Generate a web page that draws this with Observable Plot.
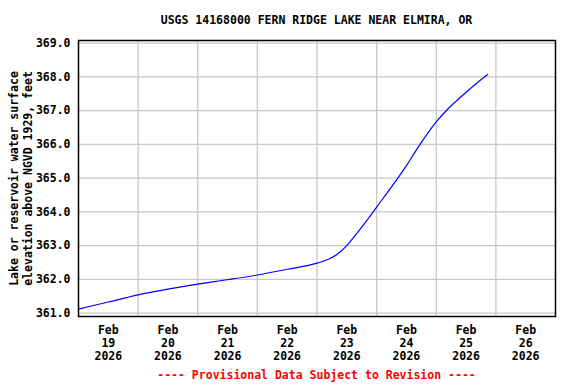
<!DOCTYPE html>
<html>
<head>
<meta charset="utf-8">
<script src="https://cdn.jsdelivr.net/npm/d3@7"></script>
<script src="https://cdn.jsdelivr.net/npm/@observablehq/plot@0.6"></script>
<style>
  html, body { margin: 0; padding: 0; background: #fff; }
  #wrap { position: relative; width: 576px; height: 384px; overflow: hidden; font-family: "DejaVu Sans Mono", monospace; font-weight: bold; font-size: 11.5px; }
  #title { position: absolute; left: 78px; right: 21px; top: 13px; line-height: 14px; text-align: center; color: #000; white-space: pre; z-index: 2; }
  #caption { position: absolute; left: 78px; right: 21px; top: 368px; line-height: 14px; text-align: center; color: #ff0000; white-space: pre; z-index: 2; }
  svg { display: block; }
</style>
</head>
<body>
<div id="wrap">
  <div id="chart"></div>
  <div id="title"></div>
  <div id="caption"></div>
</div>
<script>
const titleText = "USGS 14168000 FERN RIDGE LAKE NEAR ELMIRA, OR";
const captionText = "---- Provisional Data Subject to Revision ----";
const yLabelText = "Lake or reservoir water surface\nelevation above NGVD 1929, feet";

// Observed series (timestamps, elevation in feet)
const times = [
  "2026-02-19T00:00", "2026-02-19T12:00", "2026-02-20T00:00", "2026-02-20T12:00",
  "2026-02-21T00:00", "2026-02-21T12:00", "2026-02-22T00:00", "2026-02-22T12:00",
  "2026-02-23T00:00", "2026-02-23T05:00", "2026-02-23T08:00", "2026-02-23T12:00",
  "2026-02-23T15:00", "2026-02-23T18:00", "2026-02-23T21:00", "2026-02-24T00:00",
  "2026-02-24T06:00", "2026-02-24T12:00", "2026-02-24T17:00", "2026-02-25T00:00",
  "2026-02-25T04:18", "2026-02-25T11:00", "2026-02-25T16:24", "2026-02-25T20:42"
];
const elevations = [
  361.12, 361.33, 361.54, 361.71,
  361.86, 361.99, 362.13, 362.30,
  362.48, 362.61, 362.74, 363.00,
  363.27, 363.55, 363.84, 364.14,
  364.74, 365.37, 365.95, 366.67,
  367.02, 367.48, 367.82, 368.07
];

const xDomain = ["2026-02-19T00:00", "2026-02-27T00:00"];
const xGridDays = ["2026-02-20", "2026-02-21", "2026-02-22", "2026-02-23", "2026-02-24", "2026-02-25", "2026-02-26"];
const xTickTimes = ["2026-02-19T12:00", "2026-02-20T12:00", "2026-02-21T12:00", "2026-02-22T12:00",
                    "2026-02-23T12:00", "2026-02-24T12:00", "2026-02-25T12:00", "2026-02-26T12:00"];
const xTickLabels = ["Feb\n19\n2026", "Feb\n20\n2026", "Feb\n21\n2026", "Feb\n22\n2026",
                     "Feb\n23\n2026", "Feb\n24\n2026", "Feb\n25\n2026", "Feb\n26\n2026"];
const yTicks = [361, 362, 363, 364, 365, 366, 367, 368, 369];
const yDomain = [360.9, 369.08];

const parse = s => new Date(s.length === 10 ? s + "T00:00:00Z" : s + ":00Z");
const data = times.map((t, i) => ({t: parse(t), v: elevations[i]}));
const tickDates = xTickTimes.map(parse);
const labelMap = new Map(tickDates.map((d, i) => [+d, xTickLabels[i]]));

document.getElementById("title").textContent = titleText;
document.getElementById("caption").textContent = captionText;

const chart = Plot.plot({
  width: 576,
  height: 384,
  marginLeft: 78,
  marginRight: 21,
  marginTop: 40,
  marginBottom: 68,
  style: {fontFamily: "'DejaVu Sans Mono', monospace", fontSize: "11.5px", fontWeight: "bold", background: "white", color: "black"},
  x: {type: "utc", domain: xDomain.map(parse)},
  y: {domain: yDomain},
  marks: [
    Plot.gridX({ticks: xGridDays.map(parse), stroke: "#c8c8c8", strokeOpacity: 1, strokeWidth: 1.3}),
    Plot.gridY({ticks: yTicks, stroke: "#c8c8c8", strokeOpacity: 1, strokeWidth: 1.3}),
    Plot.axisY({ticks: yTicks, tickSize: 0, tickPadding: 8, tickFormat: d3.format(".1f"), label: null}),
    Plot.axisX({ticks: tickDates, tickSize: 0, tickPadding: 8, tickFormat: d => labelMap.get(+d), lineHeight: 1.13, label: null}),
    Plot.line(data, {x: "t", y: "v", stroke: "#0000ff", strokeWidth: 1.2, curve: "monotone-x"}),
    Plot.frame({stroke: "black", strokeWidth: 1.5}),
    Plot.text([yLabelText], {frameAnchor: "left", textAnchor: "middle", lineAnchor: "middle", rotate: -90, dx: -58, text: d => d, lineHeight: 1.22, fill: "black"})
  ]
});
document.getElementById("chart").appendChild(chart);
</script>
</body>
</html>
